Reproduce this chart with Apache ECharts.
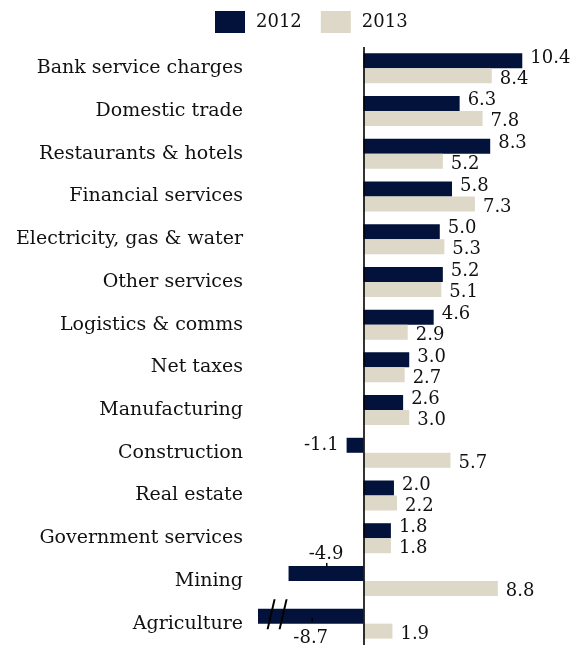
<!DOCTYPE html>
<html>
<head>
<meta charset="utf-8">
<script src="https://cdn.jsdelivr.net/npm/echarts@6/dist/echarts.min.js"></script>
<style>
  html, body { margin: 0; padding: 0; background: #fff; }
  #chart { width: 580px; height: 648px; }
</style>
</head>
<body>
<div id="chart"></div>
<script>
// Real GDP growth by sector, % year on year
const categories = [
  'Bank service charges', 'Domestic trade', 'Restaurants & hotels',
  'Financial services', 'Electricity, gas & water', 'Other services',
  'Logistics & comms', 'Net taxes', 'Manufacturing', 'Construction',
  'Real estate', 'Government services', 'Mining', 'Agriculture'
];
const growth2012 = [10.4, 6.3, 8.3, 5.8, 5.0, 5.2, 4.6, 3.0, 2.6, -1.1, 2.0, 1.8, -4.9, -8.7];
const growth2013 = [8.4, 7.8, 5.2, 7.3, 5.3, 5.1, 2.9, 2.7, 3.0, 5.7, 2.2, 1.8, 8.8, 1.9];
const seriesNames = ['2012', '2013'];

const NAVY = '#02123a';
const SAND = '#ddd8c7';
const INK = '#111111';
const FONT = '"DejaVu Serif", serif';

// Negative bars get their labels placed around the bar rather than past its end
const negativePlacement = {
  'Construction': { position: 'left', distance: 8 },
  'Mining': { position: 'top', distance: 3 },
  'Agriculture': { position: 'bottom', distance: 6 }
};

function withLabels(values) {
  return values.map((v, i) => {
    const item = { value: v };
    const special = negativePlacement[categories[i]];
    if (v < 0 && special) {
      item.label = { position: special.position, distance: special.distance, offset: [0, 0] };
    }
    return item;
  });
}

const chart = echarts.init(document.getElementById('chart'), null, { renderer: 'canvas' });

chart.setOption({
  animation: false,
  backgroundColor: '#ffffff',
  legend: {
    data: seriesNames,
    left: 210,
    top: 6,
    itemWidth: 30,
    itemHeight: 22,
    itemGap: 19,
    icon: 'rect',
    textStyle: { fontFamily: FONT, fontSize: 18, color: INK, padding: [0, 0, 0, 6] }
  },
  grid: { left: 258, right: 18, top: 47, bottom: 3, containLabel: false },
  xAxis: {
    type: 'value',
    min: -6.9,
    max: 13,
    show: false
  },
  yAxis: {
    type: 'category',
    inverse: true,
    data: categories,
    axisLine: { show: false },
    axisTick: { show: false },
    splitLine: { show: false },
    axisLabel: { margin: 15, fontFamily: FONT, fontSize: 19, color: INK }
  },
  series: [
    {
      name: seriesNames[0],
      type: 'bar',
      barWidth: 15,
      barGap: '0%',
      clip: true,
      itemStyle: { color: NAVY },
      data: withLabels(growth2012),
      label: {
        show: true,
        position: 'right',
        distance: 8,
        offset: [0, -3],
        fontFamily: FONT,
        fontSize: 18,
        color: INK,
        formatter: p => p.value.toFixed(1)
      },
      markPoint: {
        silent: true,
        label: { show: false },
        itemStyle: { color: '#000' },
        data: [
          // axis break marks on the truncated Agriculture bar
          {
            coord: [-5.65, 'Agriculture'],
            symbol: 'path://M0,30 L7,0 L9,0 L2,30 Z M12,30 L19,0 L21,0 L14,30 Z',
            symbolSize: [21, 30],
            symbolOffset: [0, -2]
          },
          // short leader stubs between the negative labels and their bars
          { coord: [-2.4, 'Mining'], symbol: 'rect', symbolSize: [1.5, 4], symbolOffset: [0, -8.5] },
          { coord: [-3.35, 'Agriculture'], symbol: 'rect', symbolSize: [1.5, 4], symbolOffset: [0, 4] }
        ]
      },
      markLine: {
        silent: true,
        symbol: 'none',
        label: { show: false },
        lineStyle: { color: '#000', width: 1.6, type: 'solid' },
        data: [{ xAxis: 0 }]
      }
    },
    {
      name: seriesNames[1],
      type: 'bar',
      barWidth: 15,
      barGap: '0%',
      itemStyle: { color: SAND },
      data: withLabels(growth2013),
      label: {
        show: true,
        position: 'right',
        distance: 8,
        offset: [0, 3],
        fontFamily: FONT,
        fontSize: 18,
        color: INK,
        formatter: p => p.value.toFixed(1)
      }
    }
  ]
});
</script>
</body>
</html>
